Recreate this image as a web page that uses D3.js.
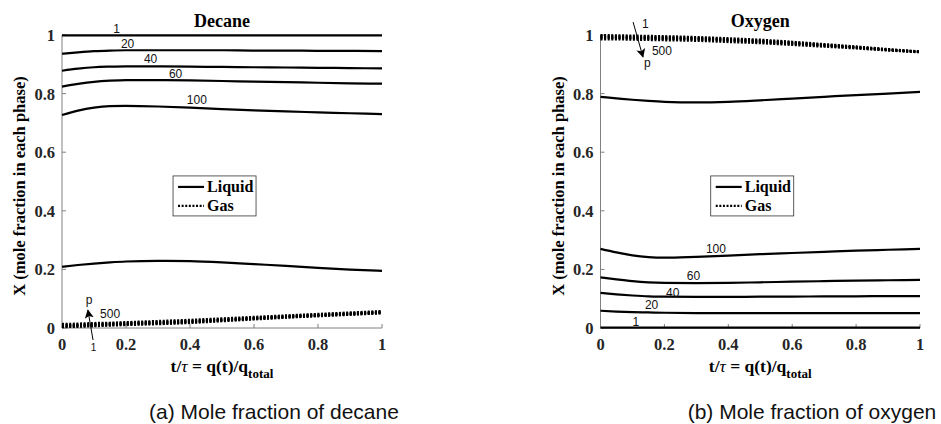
<!DOCTYPE html>
<html>
<head>
<meta charset="utf-8">
<script src="https://cdn.jsdelivr.net/npm/d3@7"></script>
<style>
  body { margin: 0; background: #fff; }
  .tick-lbl { font-family: "Liberation Serif", serif; font-weight: bold; font-size: 16.5px; fill: #262626; }
  .ttl { font-family: "Liberation Serif", serif; font-weight: bold; font-size: 18px; fill: #000; }
  .clab { font-family: "Liberation Sans", Arial, sans-serif; font-size: 12px; fill: #111; }
  .cap { font-family: "Liberation Sans", Arial, sans-serif; font-size: 21px; fill: #111; }
</style>
</head>
<body>
<div id="chart"></div>
<script>
const tGrid = [0, 0.05, 0.1, 0.15, 0.2, 0.3, 0.4, 0.5, 0.6, 0.7, 0.8, 0.9, 1];
const xTicks = [0, 0.2, 0.4, 0.6, 0.8, 1];
const yTicks = [0, 0.2, 0.4, 0.6, 0.8, 1];
const xTickLabels = ["0", "0.2", "0.4", "0.6", "0.8", "1"];
const yTickLabels = ["0", "0.2", "0.4", "0.6", "0.8", "1"];

// Decane, liquid phase (pressure labels)
const decLiq1   = [0.999,0.999,0.999,0.999,0.999,0.999,0.999,0.999,0.999,0.999,0.999,0.999,0.999];
const decLiq20  = [0.936,0.941,0.945,0.947,0.948,0.948,0.948,0.948,0.947,0.947,0.946,0.946,0.945];
const decLiq40  = [0.878,0.885,0.890,0.892,0.893,0.893,0.892,0.891,0.890,0.889,0.888,0.887,0.886];
const decLiq60  = [0.824,0.833,0.840,0.844,0.846,0.846,0.845,0.843,0.841,0.839,0.837,0.835,0.834];
const decLiq100 = [0.727,0.742,0.752,0.757,0.758,0.756,0.752,0.747,0.743,0.739,0.736,0.733,0.730];
const decLiq500 = [0.209,0.215,0.220,0.224,0.227,0.229,0.228,0.224,0.218,0.212,0.205,0.199,0.195];
// Decane, gas phase
const decGas1   = [0.003,0.004,0.006,0.008,0.010,0.013,0.017,0.023,0.029,0.035,0.040,0.045,0.050];
const decGas20  = [0.005,0.006,0.008,0.010,0.012,0.015,0.019,0.025,0.031,0.036,0.042,0.046,0.051];
const decGas40  = [0.007,0.008,0.010,0.012,0.014,0.017,0.021,0.027,0.032,0.038,0.043,0.048,0.053];
const decGas60  = [0.009,0.010,0.012,0.014,0.016,0.019,0.023,0.028,0.034,0.039,0.044,0.049,0.054];
const decGas100 = [0.011,0.012,0.014,0.016,0.018,0.021,0.025,0.030,0.035,0.041,0.046,0.051,0.056];
const decGas500 = [0.014,0.015,0.017,0.018,0.020,0.024,0.028,0.033,0.038,0.043,0.048,0.053,0.058];

// Oxygen, liquid phase
const oxLiq1   = [0.001,0.001,0.001,0.001,0.001,0.001,0.001,0.001,0.001,0.001,0.001,0.001,0.001];
const oxLiq20  = [0.059,0.056,0.054,0.053,0.052,0.051,0.051,0.051,0.051,0.051,0.051,0.051,0.051];
const oxLiq40  = [0.120,0.115,0.111,0.108,0.107,0.106,0.106,0.107,0.107,0.108,0.108,0.109,0.109];
const oxLiq60  = [0.173,0.166,0.160,0.156,0.154,0.153,0.154,0.156,0.158,0.160,0.162,0.163,0.164];
const oxLiq100 = [0.270,0.258,0.248,0.242,0.240,0.243,0.247,0.252,0.256,0.260,0.264,0.267,0.270];
const oxLiq500 = [0.789,0.784,0.779,0.775,0.772,0.770,0.772,0.777,0.783,0.789,0.795,0.800,0.806];
// Oxygen, gas phase
const oxGas1   = [1.000,0.999,0.998,0.997,0.996,0.993,0.989,0.984,0.977,0.969,0.961,0.952,0.944];
const oxGas20  = [0.997,0.996,0.995,0.994,0.993,0.990,0.986,0.981,0.975,0.967,0.959,0.951,0.943];
const oxGas40  = [0.994,0.993,0.992,0.991,0.990,0.988,0.984,0.979,0.973,0.966,0.958,0.950,0.943];
const oxGas60  = [0.992,0.991,0.990,0.989,0.988,0.986,0.982,0.977,0.971,0.964,0.957,0.949,0.942];
const oxGas100 = [0.989,0.989,0.988,0.987,0.986,0.984,0.980,0.975,0.969,0.963,0.956,0.948,0.942];
const oxGas500 = [0.985,0.985,0.984,0.983,0.982,0.980,0.976,0.972,0.966,0.960,0.954,0.947,0.941];

// contour-style labels: [text, t, X]
const decLabels = [["1",0.16,1.007],["20",0.184,0.956],["40",0.256,0.904],["60",0.334,0.853],["100",0.39,0.764]];
const oxLabels  = [["100",0.33,0.256],["60",0.27,0.164],["40",0.205,0.106],["20",0.139,0.065],["1",0.10,0.007]];

var width = 941, height = 424;
var svg = d3.select("#chart").append("svg")
    .attr("width", width)
    .attr("height", height)
    .style("background", "#fff");

svg.append("defs").append("marker")
    .attr("id", "head")
    .attr("viewBox", "0 0 10 10")
    .attr("refX", 9).attr("refY", 5)
    .attr("markerWidth", 9).attr("markerHeight", 9)
    .attr("markerUnits", "userSpaceOnUse")
    .attr("orient", "auto")
  .append("path")
    .attr("d", "M0,0 L10,5 L0,10 L2.5,5 Z")
    .attr("fill", "#000");

function drawPanel(o) {
    var x = d3.scaleLinear().domain([0, 1]).range([o.x0, o.x1]);
    var y = d3.scaleLinear().domain([0, 1]).range([328, 35]);
    var g = svg.append("g");

    // axes (left + bottom only, ticks inward)
    var ax = g.append("g").attr("stroke", "#808080").attr("stroke-width", 1);
    ax.append("line").attr("x1", x(0)).attr("x2", x(1)).attr("y1", y(0)).attr("y2", y(0));
    ax.append("line").attr("x1", x(0)).attr("x2", x(0)).attr("y1", y(0)).attr("y2", y(1));
    ax.selectAll(".xt").data(xTicks).enter().append("line")
        .attr("x1", d => x(d)).attr("x2", d => x(d))
        .attr("y1", y(0)).attr("y2", y(0) - 4);
    ax.selectAll(".yt").data(yTicks).enter().append("line")
        .attr("x1", x(0)).attr("x2", x(0) + 4)
        .attr("y1", d => y(d)).attr("y2", d => y(d));

    g.selectAll(".xl").data(xTicks).enter().append("text")
        .attr("class", "tick-lbl")
        .attr("x", d => x(d)).attr("y", 350)
        .attr("text-anchor", "middle")
        .text((d, i) => xTickLabels[i]);
    g.selectAll(".yl").data(yTicks).enter().append("text")
        .attr("class", "tick-lbl")
        .attr("x", x(0) - 7).attr("y", d => y(d) + 6)
        .attr("text-anchor", "end")
        .text((d, i) => yTickLabels[i]);

    var line = d3.line()
        .x(function (d, i) { return x(tGrid[i]); })
        .y(function (d) { return y(d); })
        .curve(d3.curveMonotoneX);

    o.gas.forEach(function (s) {
        g.append("path").attr("d", line(s))
            .attr("fill", "none").attr("stroke", "#000")
            .attr("stroke-width", 2.2).attr("stroke-dasharray", "2,1.6");
    });
    o.liquid.forEach(function (s) {
        g.append("path").attr("d", line(s))
            .attr("fill", "none").attr("stroke", "#000")
            .attr("stroke-width", 2.2);
    });

    g.selectAll(".cl").data(o.labels).enter().append("text")
        .attr("class", "clab")
        .attr("x", d => x(d[1])).attr("y", d => y(d[2]))
        .text(d => d[0]);

    // pressure arrow
    g.append("line")
        .attr("x1", x(o.arrow[0])).attr("y1", y(o.arrow[1]))
        .attr("x2", x(o.arrow[2])).attr("y2", y(o.arrow[3]))
        .attr("stroke", "#000").attr("stroke-width", 1)
        .attr("marker-end", "url(#head)");
    o.arrowText.forEach(function (a) {
        g.append("text").attr("class", "clab")
            .attr("x", x(a[1])).attr("y", y(a[2]))
            .style("font-size", a[3] + "px")
            .text(a[0]);
    });

    g.append("text").attr("class", "ttl")
        .attr("x", (x(0) + x(1)) / 2).attr("y", 27)
        .attr("text-anchor", "middle").text(o.title);

    // y label
    g.append("text").attr("class", "ttl").style("font-size", "16.5px")
        .attr("transform", "translate(" + (x(0) - 37) + ",186) rotate(-90)")
        .attr("text-anchor", "middle")
        .text("X (mole fraction in each phase)");

    // x label
    var xl = g.append("text").attr("class", "ttl").style("font-size", "17.5px")
        .attr("x", (x(0) + x(1)) / 2).attr("y", 372)
        .attr("text-anchor", "middle");
    xl.append("tspan").text("t/");
    xl.append("tspan").style("font-weight", "normal").style("font-style", "italic").text("\u03C4");
    xl.append("tspan").text(" = q(t)/q");
    xl.append("tspan").attr("dy", 6).style("font-size", "13px").text("total");

    // legend
    var lx = x(o.legend[0]), ly = y(o.legend[1]);
    var lg = g.append("g");
    lg.append("rect").attr("x", lx).attr("y", ly).attr("width", 83).attr("height", 40)
        .attr("fill", "#fff").attr("stroke", "#333").attr("stroke-width", 0.8);
    lg.append("line").attr("x1", lx + 5).attr("x2", lx + 31).attr("y1", ly + 11).attr("y2", ly + 11)
        .attr("stroke", "#000").attr("stroke-width", 2.2);
    lg.append("line").attr("x1", lx + 5).attr("x2", lx + 31).attr("y1", ly + 30).attr("y2", ly + 30)
        .attr("stroke", "#000").attr("stroke-width", 2.2).attr("stroke-dasharray", "2,1.6");
    lg.append("text").attr("class", "ttl").style("font-size", "16px")
        .attr("x", lx + 34).attr("y", ly + 16).text("Liquid");
    lg.append("text").attr("class", "ttl").style("font-size", "16px")
        .attr("x", lx + 34).attr("y", ly + 35).text("Gas");

    svg.append("text").attr("class", "cap")
        .attr("x", o.capX).attr("y", 419)
        .attr("text-anchor", "middle").text(o.caption);
}

drawPanel({
    x0: 62, x1: 382, title: "Decane",
    liquid: [decLiq1, decLiq20, decLiq40, decLiq60, decLiq100, decLiq500],
    gas: [decGas1, decGas20, decGas40, decGas60, decGas100, decGas500],
    labels: decLabels,
    arrow: [0.097, -0.041, 0.081, 0.061],
    arrowText: [["1", 0.09, -0.08, 10], ["p", 0.074, 0.082, 12], ["500", 0.119, 0.034, 12]],
    legend: [0.347, 0.519],
    caption: "(a) Mole fraction of decane", capX: 274
});

drawPanel({
    x0: 600.5, x1: 920, title: "Oxygen",
    liquid: [oxLiq1, oxLiq20, oxLiq40, oxLiq60, oxLiq100, oxLiq500],
    gas: [oxGas1, oxGas20, oxGas40, oxGas60, oxGas100, oxGas500],
    labels: oxLabels,
    arrow: [0.102, 1.044, 0.133, 0.925],
    arrowText: [["1", 0.130, 1.024, 12], ["500", 0.161, 0.932, 12], ["p", 0.136, 0.89, 12]],
    legend: [0.345, 0.519],
    caption: "(b) Mole fraction of oxygen", capX: 812
});
</script>
</body>
</html>
